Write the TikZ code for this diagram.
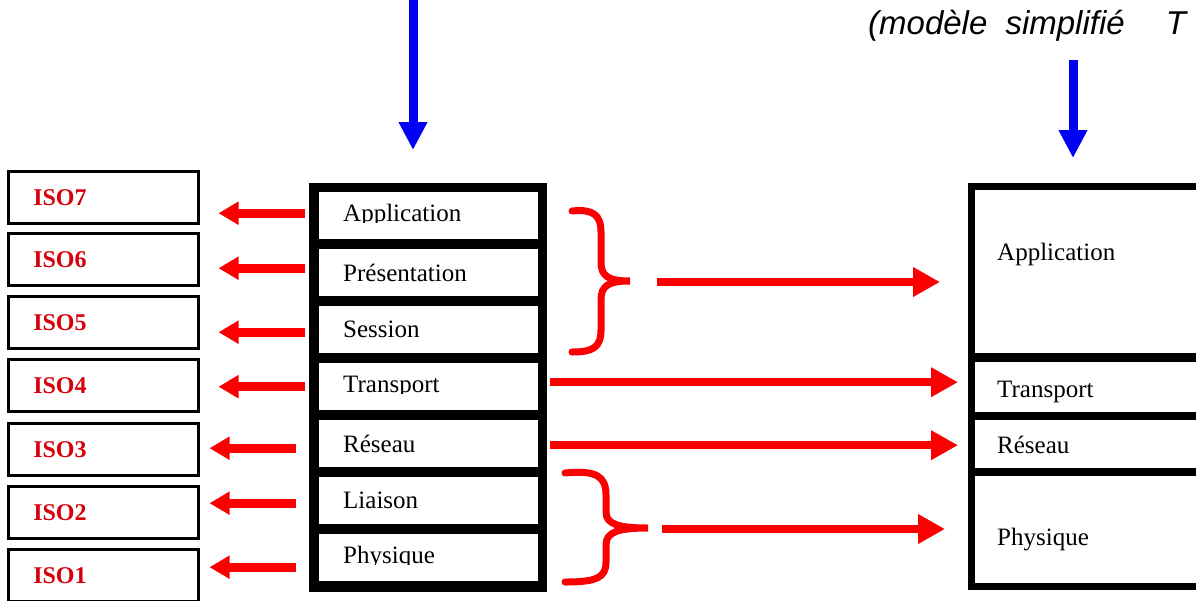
\documentclass[tikz,border=0pt]{standalone}
\usepackage{fontspec}
\setmainfont{Liberation Serif}
\newfontfamily\titlefont{Liberation Sans}
\usetikzlibrary{arrows.meta}
\definecolor{isored}{RGB}{215,0,10}
\definecolor{arrowred}{RGB}{250,0,0}
\definecolor{inblue}{RGB}{0,0,245}

\begin{document}
\begin{tikzpicture}[x=1pt, y=-1pt,
    isobox/.style={draw, line width=2.5pt, minimum width=190pt, minimum height=52pt, text width=140pt, inner xsep=25pt, inner ysep=0pt, align=left, anchor=north west, text=isored, font=\fontsize{24}{26}\selectfont\bfseries},
    osicell/.style={fill=white, minimum width=219pt, minimum height=47pt, text width=171pt, inner xsep=24pt, inner ysep=0pt, align=left, anchor=north west, font=\fontsize{25}{27}\selectfont},
    tcpcell/.style={fill=white, minimum width=300pt, anchor=north west, inner sep=0pt},
    tcptext/.style={anchor=base west, inner sep=0pt, font=\fontsize{25}{27}\selectfont},
    stack/.style={fill=black, anchor=north west, inner sep=0pt},
    leftarrow/.style={arrowred, line width=9pt, -{Triangle[width=22pt,length=20pt]}},
    rightarrow/.style={arrowred, line width=8pt, -{Triangle[width=28pt,length=27pt]}},
    brace/.style={arrowred, line width=7pt, line cap=round},
    downarrow/.style={inblue, line width=9pt, -{Triangle[width=27pt,length=28pt]}}]
    \useasboundingbox (0,0) rectangle (1196,600);
    \clip (0,0) rectangle (1196,600);
    % ISO boxes
    \foreach \i/\y in {7/170,6/232,5/295,4/358,3/422,2/485,1/548}
        \node[isobox] (iso\i) at (7,\y) {ISO\i};
    % seven layers
    \node[stack, minimum width=238pt, minimum height=409pt] (osistack) at (309,183) {};
    \foreach \i/\y/\t in {7/192/Application,6/249/Présentation,5/306/Session,4/363/Transport,3/420/Réseau,2/477/Liaison,1/534/Physique}
        \node[osicell] (osi\i) at (319,\y) {\t};
    \foreach \i in {1,...,7}
        \fill[white] ([yshift=-1.5pt]osi\i.base west) rectangle (osi\i.south east);
    % simplified model
    \node[stack, minimum width=300pt, minimum height=407pt] (tcpstack) at (968,183) {};
    \node[tcpcell, minimum height=163pt] (tcp4) at (975,190) {};
    \node[tcpcell, minimum height=50pt] (tcp3) at (975,362) {};
    \node[tcpcell, minimum height=48pt] (tcp2) at (975,420) {};
    \node[tcpcell, minimum height=107pt] (tcp1) at (975,476) {};
    \node[tcptext] (tcp4txt) at (997,260) {Application};
    \node[tcptext] (tcp3txt) at (997,397) {Transport};
    \node[tcptext] (tcp2txt) at (997,453) {Réseau};
    \node[tcptext] (tcp1txt) at (997,545) {Physique};
    \node[anchor=base west, inner sep=0pt, font=\titlefont\itshape\fontsize{33}{35}\selectfont] (title) at (868,34)
        {(modèle\hspace{9pt} simplifié\hspace{32pt} T};
    % arrows to the ISO boxes
    \foreach \i/\dy/\s/\e in {7/2.5/14/19,6/4.5/14/19,5/-2.5/14/19,4/0/14/19,3/-4.5/23/10,2/-2.5/23/10,1/-9.5/23/10} {
        \path ([yshift=\dy pt]osi\i.west) coordinate (from\i);
        \draw[leftarrow, shorten <=\s pt, shorten >=\e pt] (from\i) -- (from\i -| iso\i.east);
    }
    % braces
    \draw[brace] (572,211) .. controls (592,209) and (601,214) .. (601,232) -- (601,262)
        .. controls (601,276) and (608,281) .. (630,281)
        .. controls (608,281) and (601,286) .. (601,300) -- (601,330)
        .. controls (601,348) and (592,352) .. (572,352);
    \draw[brace] (565,473) .. controls (596,470) and (606,476) .. (606,495) -- (606,512)
        .. controls (606,524) and (618,528) .. (648,528)
        .. controls (618,528) and (606,532) .. (606,545) -- (606,562)
        .. controls (606,578) and (596,582) .. (565,582);
    \coordinate (brace1) at (630,282);
    \coordinate (brace2) at (648,529);
    \draw[rightarrow, shorten <=27pt, shorten >=28pt] (brace1) -- (brace1 -| tcpstack.west);
    \draw[rightarrow, shorten <=14pt, shorten >=23pt] (brace2) -- (brace2 -| tcpstack.west);
    \path ([yshift=4.5pt]osi4.east) coordinate (from4r);
    \path ([yshift=-1.5pt]osi3.east) coordinate (from3r);
    \draw[rightarrow, shorten <=12pt, shorten >=10pt] (from4r) -- (from4r -| tcpstack.west);
    \draw[rightarrow, shorten <=12pt, shorten >=10pt] (from3r) -- (from3r -| tcpstack.west);
    % blue arrows
    \coordinate (in1) at (413,0);
    \coordinate (in2) at (1073,60);
    \draw[downarrow, shorten >=33pt] (in1) -- (in1 |- osistack.north);
    \draw[downarrow, shorten >=25pt] (in2) -- (in2 |- tcpstack.north);
\end{tikzpicture}
\end{document}
